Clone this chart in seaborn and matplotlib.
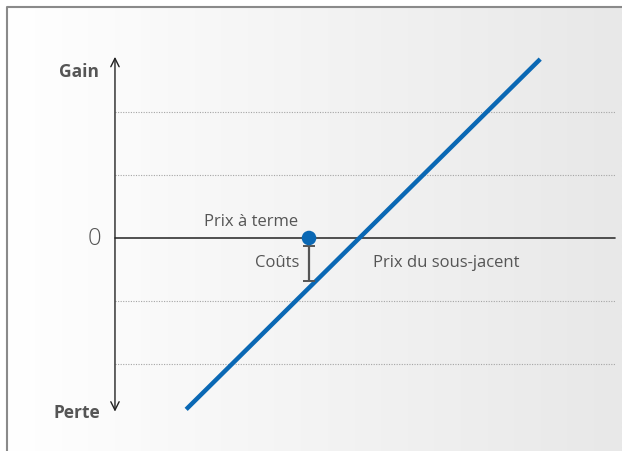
import numpy as np
import matplotlib.pyplot as plt
import seaborn as sns

# ---- data (chart units: 1 unit = one gridline step) ----
payoff_x = [1.13, 6.75]          # underlying price at start / end of the payoff line
payoff_y = [-2.72, 2.84]         # gain / loss
forward_x = [3.08]               # "Prix à terme"
forward_y = [0.0]
cost_top, cost_bottom = -0.12, -0.68   # "Coûts" bracket
grid_levels = [-2, -1, 1, 2]
axis_top, axis_bottom = 2.92, -2.80
axis_right = 7.93

sns.set_style("white")
plt.rcParams['font.family'] = ['Open Sans', 'DejaVu Sans']

fig = plt.figure(figsize=(6.22, 4.52), dpi=100)
ax = fig.add_axes([0, 0, 1, 1])
ax.set_xlim(-1.825, 8.048)
ax.set_ylim(-3.381, 3.794)
ax.axis('off')

# background gradient panel with grey border on top/left
left = -1.825 + 7 / 63
top = 3.794 - 8 / 63
grad = np.linspace(0, 1, 256)[None, :]
ax.imshow(grad, extent=(left, 8.048, -3.381, top),
          cmap=plt.matplotlib.colors.LinearSegmentedColormap.from_list('bg', ['#ffffff', '#e8e8e8']),
          aspect='auto', zorder=0)
ax.plot([left, left, 8.048], [-3.381, top, top],
        color='#8a8a8a', lw=1.5, zorder=1, solid_capstyle='butt')

# dotted guide lines
for lvl in grid_levels:
    ax.plot([0, axis_right], [lvl, lvl], color='#a5a5a5', lw=0.8, ls=(0, (1, 1.3)), zorder=2)

# zero line
ax.plot([0, axis_right], [0, 0], color='#333333', lw=1.2, zorder=3)

# vertical gain / loss axis with open arrow heads
ax.annotate('', xy=(0, axis_top), xytext=(0, axis_bottom),
            arrowprops=dict(arrowstyle='<->,head_length=0.6,head_width=0.3', color='#222222', lw=1.0),
            zorder=3)

# payoff line
sns.lineplot(x=payoff_x, y=payoff_y, ax=ax, color='#0a68b4', lw=3.2, zorder=4,
             solid_capstyle='butt')

# costs bracket
ax.errorbar(forward_x[0], (cost_top + cost_bottom) / 2, yerr=(cost_top - cost_bottom) / 2,
            color='#555555', capsize=4, elinewidth=1.6, capthick=1.4, zorder=4)

# forward price dot
sns.scatterplot(x=forward_x, y=forward_y, ax=ax, color='#0a68b4', s=110,
                edgecolor='none', zorder=5)

txt = '#555555'
ax.text(-0.57, 2.65, 'Gain', fontsize=12.5, fontweight='bold', color=txt, ha='center', va='center')
ax.text(-0.6, -2.76, 'Perte', fontsize=12.5, fontweight='bold', color=txt, ha='center', va='center')
ax.text(-0.32, 0.0, '0', fontsize=17, fontweight='light', color=txt, ha='center', va='center')
ax.text(2.16, 0.27, 'Prix à terme', fontsize=12, color=txt, ha='center', va='center')
ax.text(2.93, -0.38, 'Coûts', fontsize=12, color=txt, ha='right', va='center')
ax.text(4.1, -0.38, 'Prix du sous-jacent', fontsize=12, color=txt, ha='left', va='center')

fig.savefig('out.png', dpi=100)
